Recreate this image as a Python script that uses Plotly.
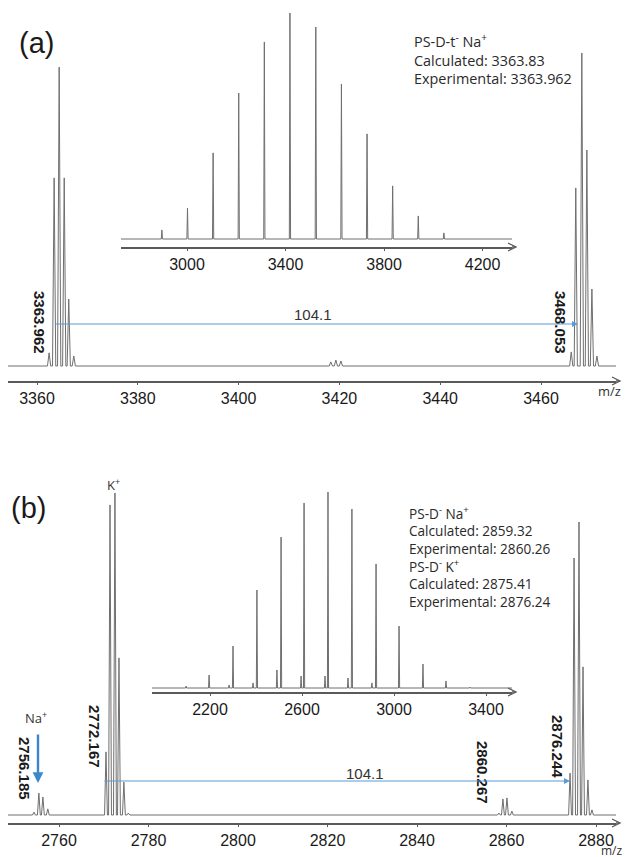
import plotly.graph_objects as go

W, H = 626, 857

# ---------------- data ----------------
# Panel (a) main spectrum (m/z, relative intensity %)
a_mz = [3362.4, 3363.4, 3364.4, 3365.4, 3366.3, 3367.3,
        3418.3, 3419.3, 3420.3,
        3466.0, 3466.9, 3468.1, 3469.1, 3470.1, 3471.1]
a_int = [4.2, 60.1, 95.5, 60.1, 21.4, 3.2,
         1.3, 1.9, 1.6,
         4.5, 56.9, 100.0, 69.0, 24.6, 3.2]
a_ticks = [3360, 3380, 3400, 3420, 3440, 3460]

# Panel (a) inset (full distribution)
ai_mz = [2898, 3002, 3106, 3210, 3314, 3418, 3523, 3627, 3731, 3835, 3939, 4043]
ai_int = [4.0, 13.7, 38.1, 64.6, 87.2, 100.0, 93.8, 68.6, 46.5, 23.5, 10.2, 2.7]
ai_ticks = [3000, 3400, 3800, 4200]

# Panel (b) main spectrum
b_mz = [2754.4, 2755.5, 2756.4, 2757.5,
        2770.5, 2771.4, 2772.5, 2773.4, 2774.5, 2775.5,
        2858.3, 2859.2, 2860.1, 2861.2,
        2874.2, 2875.1, 2876.2, 2877.1, 2878.2, 2879.1]
b_int = [0.9, 6.8, 5.6, 1.9,
         19.6, 96.3, 100.0, 48.8, 10.2, 0.6,
         0.6, 5.0, 5.3, 1.2,
         13.0, 79.8, 91.0, 46.0, 10.9, 1.6]
b_ticks = [2760, 2780, 2800, 2820, 2840, 2860, 2880]

# Panel (b) inset (K+ series and Na+ satellites)
bi_mz = [2096, 2196, 2283, 2300, 2387, 2404, 2491, 2509, 2596, 2609,
         2700, 2713, 2800, 2817, 2904, 2922, 3022, 3126, 3226, 3330]
bi_int = [1.0, 6.6, 1.5, 21.4, 2.6, 50.0, 9.2, 77.0, 6.1, 94.4,
          6.1, 100.0, 5.1, 91.3, 2.6, 63.3, 31.6, 12.2, 3.6, 0.5]
bi_ticks = [2200, 2600, 3000, 3400]

text_a = ["PS-D-t<sup>-</sup> Na<sup>+</sup>", "Calculated: 3363.83", "Experimental: 3363.962"]
text_b = ["PS-D<sup>-</sup> Na<sup>+</sup>", "Calculated: 2859.32", "Experimental: 2860.26",
          "PS-D<sup>-</sup> K<sup>+</sup>", "Calculated: 2875.41", "Experimental: 2876.24"]

# ---------------- helpers ----------------
def px(x):
    return x / W

def py(y):
    return 1 - y / H

def xrange_from(v0, p0, s, d0, d1):
    return [v0 + (d0 - p0) / s, v0 + (d1 - p0) / s]

def yrange_from(yb, ybot, ytop, k):
    return [-(ybot - yb) / k, (yb - ytop) / k]

def spectrum(centers, heights, hw, xmin, xmax):
    xs, ys = [xmin], [0]
    for c, h in sorted(zip(centers, heights)):
        xs += [c - hw, c, c + hw]
        ys += [0, h, 0]
    xs.append(xmax)
    ys.append(0)
    return xs, ys

LINE = "#6f6f6f"
AX = "#5a5a5a"
BLUE = "#5b9bd5"

panels = [
    # name, mz, int, ticks, v0, p0, s, dom x px, yb, ybot, ytop, k, hw
    ("", a_mz, a_int, a_ticks, 3360, 37, 5.04, (8, 616), 366, 381, 20, 3.13, 0.32),
    ("2", ai_mz, ai_int, ai_ticks, 3000, 187, 0.2463, (121, 512), 239, 247, 8, 2.26, 2.5),
    ("3", b_mz, b_int, b_ticks, 2760, 59, 4.475, (8, 616), 815, 823, 470, 3.22, 0.32),
    ("4", bi_mz, bi_int, bi_ticks, 2200, 210, 0.23, (152, 512), 688, 692, 478, 1.96, 2.5),
]

fig = go.Figure()
layout = dict(width=W, height=H, margin=dict(l=0, r=0, t=0, b=0),
              paper_bgcolor="white", plot_bgcolor="rgba(0,0,0,0)",
              showlegend=False)
shapes = []
for name, mz, inten, ticks, v0, p0, s, (d0, d1), yb, ybot, ytop, k, hw in panels:
    xr = xrange_from(v0, p0, s, d0, d1)
    yr = yrange_from(yb, ybot, ytop, k)
    xs, ys = spectrum(mz, inten, hw, xr[0], xr[1])
    fig.add_trace(go.Scatter(x=xs, y=ys, mode="lines",
                             line=dict(color=LINE, width=1),
                             xaxis="x" + name, yaxis="y" + name,
                             hoverinfo="skip"))
    layout["xaxis" + name] = dict(
        domain=[px(d0), px(d1)], range=xr, anchor="y" + name,
        showgrid=False, zeroline=False, showline=True, linecolor=AX, linewidth=2,
        tickvals=ticks, ticktext=[str(t) for t in ticks],
        ticks="outside", ticklen=2, tickcolor=AX,
        tickfont=dict(family="Liberation Sans, Arial", size=16, color="#1a1a1a"),
    )
    layout["yaxis" + name] = dict(
        domain=[py(ybot), py(ytop)], range=yr, anchor="x" + name,
        visible=False, fixedrange=True,
    )
    # arrow chevron at the right end of each axis
    xe = px(d1 + 4)
    shapes.append(dict(type="line", xref="paper", yref="paper",
                       x0=px(d1), x1=xe, y0=py(ybot), y1=py(ybot),
                       line=dict(color=AX, width=1.5)))
    shapes.append(dict(type="path", xref="paper", yref="paper",
                       path=f"M {px(d1 - 4)},{py(ybot - 4)} L {xe},{py(ybot)} L {px(d1 - 4)},{py(ybot + 4)}",
                       line=dict(color=AX, width=1.3)))

layout["shapes"] = shapes

ann = []
def label(x, y, text, size=13, angle=0, color="#1a1a1a", xanchor="center",
          family="Liberation Sans, Arial", yanchor="middle"):
    ann.append(dict(x=px(x), y=py(y), xref="paper", yref="paper", text=text,
                    showarrow=False, textangle=angle, xanchor=xanchor, yanchor=yanchor,
                    align="left", font=dict(size=size, color=color, family=family)))

label(36, 43, "(a)", size=29)
label(28, 508, "(b)", size=29)

label(412, 28, "<br>".join(text_a), size=14.4, xanchor="left", yanchor="top",
      family="Open Sans", color="#2a2a2a")
label(407, 501, "<br>".join(text_b), size=13.6, xanchor="left", yanchor="top",
      family="Open Sans", color="#2a2a2a")

label(40, 322, "<b>3363.962</b>", size=15, angle=90)
label(561, 322, "<b>3468.053</b>", size=15, angle=90)
label(25, 768, "<b>2756.185</b>", size=15, angle=90)
label(95, 736, "<b>2772.167</b>", size=15, angle=90)
label(483, 772, "<b>2860.267</b>", size=15, angle=90)
label(558, 746, "<b>2876.244</b>", size=15, angle=90)

label(313, 314, "104.1", size=15, color="#333")
label(365, 773, "104.1", size=15, color="#333")
label(623, 391, "m/z", size=13, color="#333", family="Open Sans", xanchor="right")
label(625, 850, "m/z", size=12, color="#333", family="Open Sans", xanchor="right")
label(36, 717, "Na<sup>+</sup>", size=13, color="#333", family="Open Sans")
label(113, 484, "K<sup>+</sup>", size=13, color="#333", family="Open Sans")

# blue arrows (tail given as pixel offset from head)
def arrow(x0, y0, x1, y1, width=1.2, size=1.0, color=BLUE):
    ann.append(dict(x=px(x1), y=py(y1), xref="paper", yref="paper",
                    ax=x0 - x1, ay=y0 - y1, axref="pixel", ayref="pixel",
                    text="", showarrow=True, arrowhead=2, arrowsize=size,
                    arrowwidth=width, arrowcolor=color, standoff=0))

arrow(54, 324, 578, 324)
arrow(103, 781, 570, 781)
arrow(38, 733, 38, 783, width=2.4, size=0.9, color="#3a87cc")

layout["annotations"] = ann
fig.update_layout(**layout)
fig.write_html("out.html",
               config={"displayModeBar": False},
               post_script="document.body.style.margin='0';document.body.style.overflow='hidden';")
